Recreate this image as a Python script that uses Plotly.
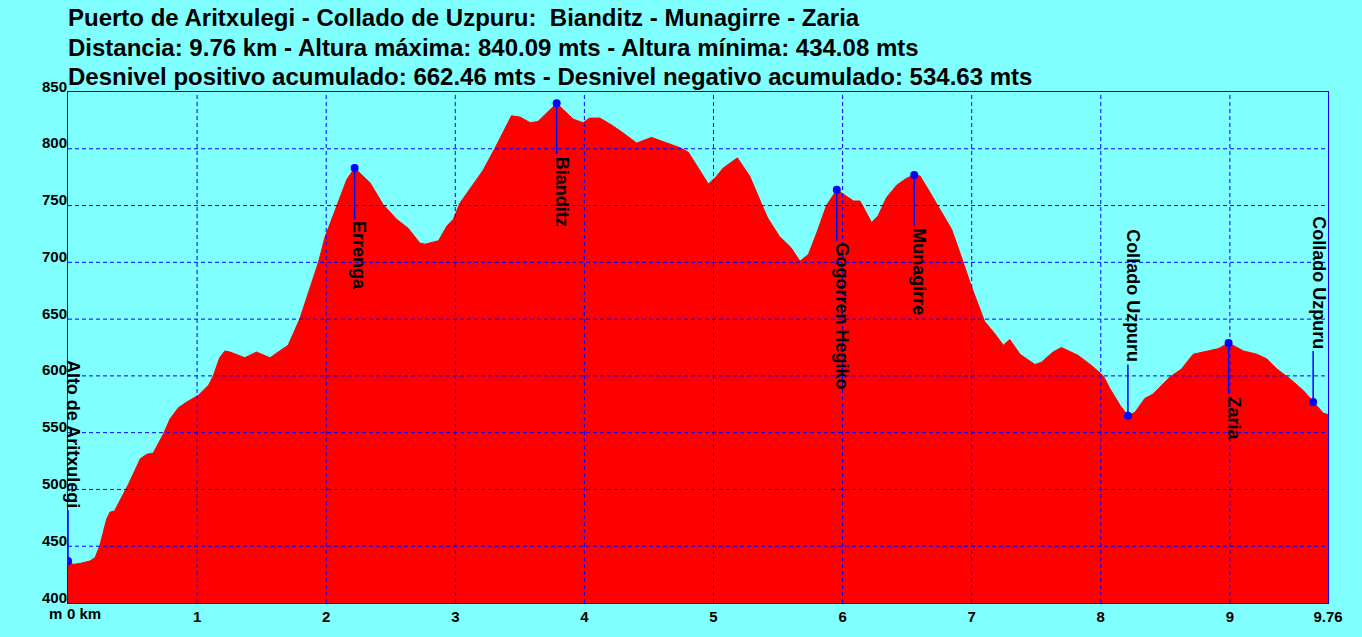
import plotly.graph_objects as go

# perfil: distancia (km) y altura (m)
dist_km = [0.00, 0.04, 0.10, 0.17, 0.21, 0.245, 0.30, 0.325, 0.36, 0.47, 0.56, 0.61, 0.66, 0.74, 0.79,
           0.855, 0.92, 1.01, 1.09, 1.125, 1.175, 1.215, 1.255, 1.37, 1.46, 1.565, 1.64, 1.705, 1.795,
           1.90, 1.94, 1.99, 2.08, 2.16, 2.22, 2.34, 2.44, 2.545, 2.635, 2.725, 2.765, 2.87, 2.935,
           2.985, 3.035, 3.11, 3.215, 3.305, 3.37, 3.435, 3.50, 3.58, 3.64, 3.705, 3.785, 3.85, 3.915,
           3.99, 4.04, 4.12, 4.21, 4.30, 4.365, 4.405, 4.52, 4.635, 4.74, 4.805, 4.88, 4.96, 5.01,
           5.075, 5.185, 5.28, 5.37, 5.42, 5.51, 5.60, 5.67, 5.735, 5.80, 5.875, 5.955, 6.03, 6.085,
           6.135, 6.175, 6.225, 6.275, 6.34, 6.42, 6.495, 6.555, 6.60, 6.675, 6.765, 6.845, 6.91,
           7.00, 7.10, 7.18, 7.245, 7.295, 7.375, 7.49, 7.54, 7.63, 7.695, 7.825, 7.93, 8.02, 8.07,
           8.15, 8.21, 8.265, 8.34, 8.405, 8.535, 8.625, 8.715, 8.79, 8.91, 8.99, 9.105, 9.21, 9.285,
           9.365, 9.47, 9.57, 9.645, 9.725, 9.76]
elev_m = [437, 434, 435, 437, 440, 450, 474, 480, 481, 505, 527, 531, 532, 549, 562,
          572, 577, 583, 592, 600, 616, 622, 621, 616, 621, 616, 622, 627, 650,
          685, 700, 722, 750, 773, 783, 770, 751, 738, 730, 717, 716, 719, 732,
          738, 752, 764, 781, 800, 814, 829, 828, 823, 824, 831, 840, 833, 826,
          823, 827, 827, 821, 814, 808, 805, 810, 805, 801, 797, 783, 769, 774,
          783, 792, 776, 752, 739, 723, 713, 701, 707, 726, 750, 764, 758, 754,
          754, 745, 735, 741, 757, 768, 774, 777, 776, 762, 744, 729, 708,
          678, 648, 637, 627, 632, 619, 610, 612, 621, 625, 618, 609, 600, 589,
          574, 565, 568, 580, 584, 599, 606, 619, 621, 624, 629, 622, 619, 615,
          606, 597, 587, 577, 567, 566]

# puntos de paso
wp_names = ["Alto de Aritxulegi", "Errenga", "Bianditz", "Gogorren Hegiko", "Munagirre",
            "Collado Uzpuru", "Zaria", "Collado Uzpuru"]
wp_dist = [0.0, 2.22, 3.785, 5.955, 6.555, 8.21, 8.99, 9.645]
wp_elev = [437, 783, 840.09, 764, 777, 565, 629, 577]

x_ticks = [1, 2, 3, 4, 5, 6, 7, 8, 9, 9.76]
x_ticktext = ["1", "2", "3", "4", "5", "6", "7", "8", "9", "9.76"]
y_ticks = [400, 450, 500, 550, 600, 650, 700, 750, 800, 850]

title_lines = [
    "Puerto de Aritxulegi - Collado de Uzpuru:  Bianditz - Munagirre - Zaria",
    "Distancia: 9.76 km - Altura máxima: 840.09 mts - Altura mínima: 434.08 mts",
    "Desnivel positivo acumulado: 662.46 mts - Desnivel negativo acumulado: 534.63 mts",
]

BLUE = "#0000FF"
FONT = "Liberation Sans"
stick = 45  # largo del palito en metros

fig = go.Figure()
fig.add_trace(go.Scatter(x=dist_km, y=elev_m, mode="lines", fill="tozeroy",
                         fillcolor="#FF0000", line=dict(color="#FF0000", width=1),
                         hoverinfo="skip"))

# palitos y puntos
lx, ly = [], []
for d, e in zip(wp_dist, wp_elev):
    up = e < 600
    lx += [d, d, None]
    ly += [e, e + stick if up else e - stick, None]
fig.add_trace(go.Scatter(x=lx, y=ly, mode="lines", line=dict(color=BLUE, width=1.5),
                         hoverinfo="skip"))
fig.add_trace(go.Scatter(x=wp_dist, y=wp_elev, mode="markers",
                         marker=dict(color=BLUE, size=8), hoverinfo="skip"))

for name, d, e in zip(wp_names, wp_dist, wp_elev):
    up = e < 600
    fig.add_annotation(x=d, y=e + stick if up else e - stick, text=name, textangle=90,
                       showarrow=False, xanchor="center",
                       yanchor="bottom" if up else "top", xshift=5,
                       font=dict(family=FONT, size=18, color="black", weight="bold"))

# rejilla punteada por encima del relleno
for xv in x_ticks[:-1]:
    fig.add_shape(type="line", x0=xv, x1=xv, y0=y_ticks[0], y1=y_ticks[-1], layer="above",
                  line=dict(color=BLUE, width=1, dash="4px,3px"))
for yv in y_ticks[1:-1]:
    fig.add_shape(type="line", x0=0, x1=x_ticks[-1], y0=yv, y1=yv, layer="above",
                  line=dict(color=BLUE, width=1, dash="4px,3px"))

# etiquetas del eje y, encima de cada linea
for yv in y_ticks:
    fig.add_annotation(xref="paper", x=0, y=yv, text=str(yv), showarrow=False,
                       xanchor="right", yanchor="middle", xshift=1, yshift=6,
                       font=dict(family=FONT, size=15, color="black", weight="bold"))

# titulo
for i, line in enumerate(title_lines):
    fig.add_annotation(xref="paper", yref="paper", x=0, y=[1.1489, 1.0914, 1.0339][i],
                       text=line, showarrow=False, xanchor="left", yanchor="middle",
                       xshift=-2, yshift=-2,
                       font=dict(family=FONT, size=24, color="black", weight="bold"))

fig.add_annotation(xref="paper", yref="paper", x=0, y=0, text="0 km", showarrow=False,
                   xanchor="left", yanchor="top", xshift=-3, yshift=0,
                   font=dict(family=FONT, size=15, color="black", weight="bold"))
fig.add_annotation(xref="paper", yref="paper", x=0, y=0, text="m", showarrow=False,
                   xanchor="right", yanchor="top", xshift=-4, yshift=0,
                   font=dict(family=FONT, size=15, color="black", weight="bold"))

fig.update_layout(
    width=1362, height=637,
    margin=dict(l=68, r=34, t=92, b=32),
    paper_bgcolor="#80FFFF", plot_bgcolor="#80FFFF",
    showlegend=False,
    xaxis=dict(range=[0, 9.76], tickmode="array", tickvals=x_ticks, ticktext=x_ticktext,
               showgrid=False, zeroline=False, showline=True, mirror=True,
               linecolor=BLUE, linewidth=1, ticks="",
               tickfont=dict(family=FONT, size=15, color="black", weight="bold")),
    yaxis=dict(range=[400, 850], showticklabels=False,
               showgrid=False, zeroline=False, showline=True, mirror=True,
               linecolor=BLUE, linewidth=1, ticks=""),
)

fig.write_html("out.html", config={"displayModeBar": False},
               post_script="document.body.style.margin='0';")
